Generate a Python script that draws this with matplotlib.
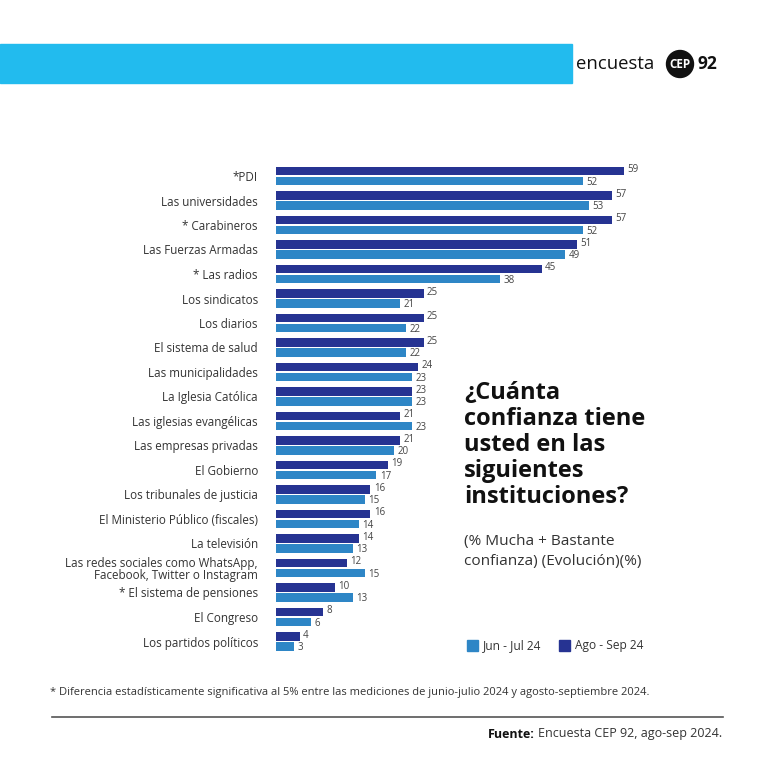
import matplotlib
matplotlib.use("Agg")
import matplotlib.pyplot as plt
from matplotlib.patches import Rectangle, Circle
from matplotlib.lines import Line2D

plt.rcParams['font.family'] = ['Open Sans', 'DejaVu Sans']

categories = ["*PDI", "Las universidades", "* Carabineros", "Las Fuerzas Armadas",
              "* Las radios", "Los sindicatos", "Los diarios", "El sistema de salud",
              "Las municipalidades", "La Iglesia Católica", "Las iglesias evangélicas",
              "Las empresas privadas", "El Gobierno", "Los tribunales de justicia",
              "El Ministerio Público (fiscales)", "La televisión",
              "Las redes sociales como WhatsApp,\nFacebook, Twitter o Instagram",
              "* El sistema de pensiones", "El Congreso", "Los partidos políticos"]
ago_sep = [59, 57, 57, 51, 45, 25, 25, 25, 24, 23, 21, 21, 19, 16, 16, 14, 12, 10, 8, 4]
jun_jul = [52, 53, 52, 49, 38, 21, 22, 22, 23, 23, 23, 20, 17, 15, 14, 13, 15, 13, 6, 3]
series_names = ["Jun - Jul 24", "Ago - Sep 24"]

DARK = "#263392"
LIGHT = "#2E86C6"
CYAN = "#22BBEE"
W = H = 768

fig = plt.figure(figsize=(7.68, 7.68), dpi=100)
fig.patch.set_facecolor("white")

def fx(px):
    return px / W

def fy(py):
    return 1 - py / H

# header band
fig.patches.append(Rectangle((0, fy(83)), fx(572), fy(44) - fy(83),
                             transform=fig.transFigure, color=CYAN, zorder=0))
# logo
fig.text(fx(576), fy(64), "encuesta", fontsize=13.3, fontweight="normal",
         color="#111111", va="center", ha="left")
fig.patches.append(Circle((fx(680), fy(64)), fx(13.5), transform=fig.transFigure,
                          color="#111111", zorder=2))
fig.text(fx(680), fy(64), "CEP", fontsize=8.5, fontweight="bold", color="white",
         va="center", ha="center", zorder=3)
fig.text(fx(697), fy(64), "92", fontsize=12.5, fontweight="bold", color="#111111",
         va="center", ha="left")

# bars axes
n = len(categories)
px_per_unit = 5.9
row_top = 176.0
row_step = 24.5
xmax = 62
ax_left = 276
ax_width = xmax * px_per_unit
top_px = row_top - 0.6 * row_step
bot_px = row_top + (n - 1 + 0.6) * row_step
ax = fig.add_axes([fx(ax_left), fy(bot_px), fx(ax_width), (bot_px - top_px) / H])
ax.set_xlim(0, xmax)
ax.set_ylim(n - 1 + 0.6, -0.6)

ys = list(range(n))
bh = 0.34
off = 0.205
ax.barh([y - off for y in ys], ago_sep, height=bh, color=DARK)
ax.barh([y + off for y in ys], jun_jul, height=bh, color=LIGHT)
for y, a, b in zip(ys, ago_sep, jun_jul):
    ax.annotate(str(a), (a, y - off - 0.05), xytext=(2.5, 0), textcoords="offset points",
                va="center", ha="left", fontsize=7, color="#444444")
    ax.annotate(str(b), (b, y + off + 0.05), xytext=(2.5, 0), textcoords="offset points",
                va="center", ha="left", fontsize=7, color="#444444")

ax.set_yticks(ys)
ax.set_yticklabels(categories, fontsize=8.4, color="#333333", linespacing=1.0)
ax.tick_params(axis="y", length=0, pad=13)
ax.set_xticks([])
for s in ax.spines.values():
    s.set_visible(False)

# title block
title_lines = ["¿Cuánta", "confianza tiene", "usted en las", "siguientes", "instituciones?"]
for i, t in enumerate(title_lines):
    fig.text(fx(464), fy(393 + i * 26.0), t, fontsize=17, fontweight="bold",
             color="#111111", va="center", ha="left")
fig.text(fx(464), fy(541), "(% Mucha + Bastante", fontsize=11.1, color="#333333",
         va="center", ha="left")
fig.text(fx(464), fy(561), "confianza) (Evolución)(%)", fontsize=11.1, color="#333333",
         va="center", ha="left")

# legend
fig.patches.append(Rectangle((fx(467), fy(651)), fx(11), fx(11), transform=fig.transFigure,
                             color=LIGHT))
fig.text(fx(483), fy(646), series_names[0], fontsize=8.6, color="#333333", va="center")
fig.patches.append(Rectangle((fx(559), fy(651)), fx(11), fx(11), transform=fig.transFigure,
                             color=DARK))
fig.text(fx(575), fy(646), series_names[1], fontsize=8.6, color="#333333", va="center")

# footnote
fig.text(fx(50), fy(693), "* Diferencia estadísticamente significativa al 5% entre las mediciones de junio-julio 2024 y agosto-septiembre 2024.",
         fontsize=8.0, color="#333333", va="center", ha="left")
fig.lines.append(Line2D([fx(52), fx(723)], [fy(717), fy(717)], transform=fig.transFigure,
                        color="#555555", lw=1.2))
src = fig.text(fx(722), fy(734), "Encuesta CEP 92, ago-sep 2024.", fontsize=9, color="#333333",
               va="center", ha="right")
fig.canvas.draw()
bb = src.get_window_extent(renderer=fig.canvas.get_renderer())
fig.text(bb.x0 / (W) - fx(3), fy(734), "Fuente:", fontsize=9, fontweight="bold",
         color="#111111", va="center", ha="right")

fig.savefig("out.png", dpi=100)
